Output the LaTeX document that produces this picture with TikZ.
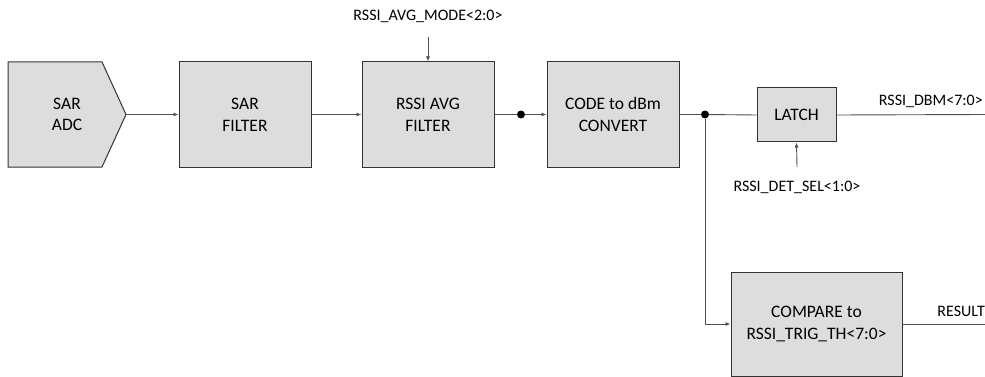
\documentclass[tikz,border=0pt]{standalone}
\usepackage{fontspec}
\setmainfont{Carlito}
\usetikzlibrary{arrows.meta}
\definecolor{boxfill}{HTML}{DDDDDD}
\definecolor{edgecol}{HTML}{333333}
\definecolor{wirecol}{HTML}{505050}
\begin{document}
\begin{tikzpicture}[x=1pt,y=-1pt,
  blk/.style={draw=edgecol,line width=1pt,fill=boxfill,align=center,inner sep=0pt,
    font=\fontsize{17.5}{21.7}\selectfont},
  lbl/.style={font=\fontsize{16}{19}\selectfont,inner sep=0pt},
  wire/.style={draw=wirecol,line width=0.9pt},
  arr/.style={wire,-{Latex[length=5pt,width=4pt]}},
  dotn/.style={circle,fill=black,inner sep=0pt,minimum size=8pt}]
\useasboundingbox (0,0) rectangle (985,377);
% SAR ADC polygon
\draw[draw=edgecol,line width=1pt,fill=boxfill] (8,62) -- (102,62) -- (126,114.5) -- (102,167) -- (8,167) -- cycle;
\node[align=center,font=\fontsize{17.5}{21.7}\selectfont] (adc) at (67,114.5) {SAR\\ADC};
\coordinate (adcout) at (126,114.5);
\node[blk,minimum width=132pt,minimum height=105pt] (sarf) at (245,114.5) {SAR\\FILTER};
\node[blk,minimum width=132pt,minimum height=105pt] (avg) at (428,114.5) {RSSI AVG\\FILTER};
\node[blk,minimum width=132pt,minimum height=105pt] (code) at (613,114.5) {CODE to dBm\\CONVERT};
\node[blk,minimum width=79pt,minimum height=54pt] (latch) at (796.5,115) {LATCH};
\node[blk,minimum width=171pt,minimum height=104pt] (cmp) at (816.5,324) {COMPARE to\\RSSI\_TRIG\_TH<7:0>};
% labels
\node[lbl] (mode) at (428,16) {RSSI\_AVG\_MODE<2:0>};
\coordinate (modeend) at (428,37);
\node[lbl] (detsel) at (797,187) {RSSI\_DET\_SEL<1:0>};
\coordinate (detend) at (797,167);
\node[lbl,anchor=south east] (dbm) at (983,108) {RSSI\_DBM<7:0>};
\node[lbl,anchor=south east] (res) at (985,317) {RESULT};
% dots
\node[dotn] (d1) at (521,114.5) {};
\node[dotn] (d2) at (705,114.5) {};
\coordinate (dbmend) at (985,114.5);
\coordinate (resend) at (985,324);
% wires
\draw[arr] (adcout) -- (sarf.west);
\draw[arr] (sarf.east) -- (avg.west);
\draw[wire] (avg.east) -- (d1);
\draw[arr] (d1) -- (code.west);
\draw[wire] (code.east) -- (d2) -- (latch.west);
\draw[wire] (latch.east) -- (dbmend);
\draw[arr] (d2) |- (cmp.west);
\draw[wire] (cmp.east) -- (resend);
\draw[arr] (modeend) -- (avg.north);
\draw[arr] (detend) -- (latch.south);
\end{tikzpicture}
\end{document}
